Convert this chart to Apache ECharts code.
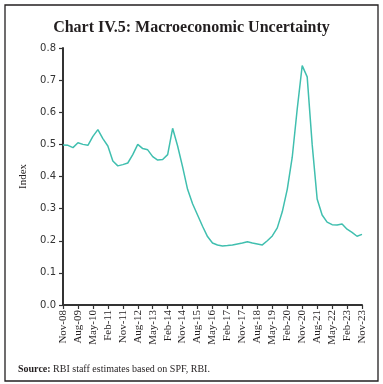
<!DOCTYPE html>
<html>
<head>
<meta charset="utf-8">
<script src="https://cdn.jsdelivr.net/npm/echarts@6/dist/echarts.min.js"></script>
<style>
html,body{margin:0;padding:0;background:#fff;}
#chart{width:383px;height:384px;}
</style>
</head>
<body>
<div id="chart"></div>
<script>
var categories = [
  'Nov-08','Feb-09','May-09','Aug-09','Nov-09','Feb-10','May-10','Aug-10','Nov-10','Feb-11',
  'May-11','Aug-11','Nov-11','Feb-12','May-12','Aug-12','Nov-12','Feb-13','May-13','Aug-13',
  'Nov-13','Feb-14','May-14','Aug-14','Nov-14','Feb-15','May-15','Aug-15','Nov-15','Feb-16',
  'May-16','Aug-16','Nov-16','Feb-17','May-17','Aug-17','Nov-17','Feb-18','May-18','Aug-18',
  'Nov-18','Feb-19','May-19','Aug-19','Nov-19','Feb-20','May-20','Aug-20','Nov-20','Feb-21',
  'May-21','Aug-21','Nov-21','Feb-22','May-22','Aug-22','Nov-22','Feb-23','May-23','Aug-23',
  'Nov-23'
];
var uncertainty = [
  0.498,0.497,0.490,0.505,0.500,0.497,0.525,0.546,0.518,0.495,
  0.448,0.433,0.437,0.442,0.468,0.500,0.487,0.483,0.462,0.451,
  0.453,0.468,0.550,0.495,0.430,0.360,0.315,0.280,0.245,0.213,
  0.193,0.187,0.184,0.185,0.187,0.190,0.193,0.197,0.193,0.190,
  0.187,0.200,0.215,0.240,0.290,0.360,0.460,0.610,0.745,0.710,
  0.500,0.330,0.280,0.258,0.250,0.249,0.252,0.236,0.226,0.214,
  0.220
];
var yTicks = { min: 0, max: 0.8, interval: 0.1 };
var titleText = 'Chart IV.5: Macroeconomic Uncertainty';
var yAxisName = 'Index';

var chart = echarts.init(document.getElementById('chart'), null, {renderer: 'canvas'});
chart.setOption({
  animation: false,
  backgroundColor: '#fff',
  title: [{
    text: titleText,
    left: 'center',
    top: 15,
    textStyle: {fontFamily: 'Liberation Serif', fontWeight: 'bold', fontSize: 16, color: '#231f20'}
  }, {
    text: '{b|Source:} {n|RBI staff estimates based on SPF, RBI.}',
    left: 13,
    top: 359,
    textStyle: {
      fontFamily: 'Liberation Serif', fontSize: 10, fontWeight: 'normal', color: '#231f20',
      rich: {
        b: {fontFamily: 'Liberation Serif', fontSize: 10, fontWeight: 'bold', color: '#231f20'},
        n: {fontFamily: 'Liberation Serif', fontSize: 10, fontWeight: 'normal', color: '#231f20'}
      }
    }
  }],
  graphic: [{
    type: 'rect',
    shape: {x: 5, y: 5, width: 373, height: 376},
    style: {fill: 'none', stroke: '#231f20', lineWidth: 1.3},
    silent: true
  }],
  grid: {left: 63, right: 21, top: 48, bottom: 79, containLabel: false},
  xAxis: {
    type: 'category',
    data: categories,
    boundaryGap: false,
    axisLine: {lineStyle: {color: '#333', width: 2}},
    axisTick: {interval: 2, length: 4, lineStyle: {color: '#333', width: 1.2}},
    axisLabel: {
      interval: 2, rotate: 90, margin: 5,
      fontFamily: 'Liberation Serif', fontSize: 11, color: '#231f20'
    },
    splitLine: {show: false}
  },
  yAxis: {
    type: 'value',
    min: yTicks.min, max: yTicks.max, interval: yTicks.interval,
    name: yAxisName,
    nameLocation: 'middle',
    nameGap: 34,
    nameTextStyle: {fontFamily: 'Liberation Serif', fontSize: 11, color: '#231f20'},
    axisLine: {show: true, lineStyle: {color: '#333', width: 2}},
    axisTick: {show: true, length: 4, lineStyle: {color: '#333', width: 1.2}},
    axisLabel: {
      margin: 7,
      fontFamily: 'DejaVu Sans', fontSize: 10, color: '#333',
      formatter: function (v) { return v.toFixed(1); }
    },
    splitLine: {show: false}
  },
  series: [{
    type: 'line',
    data: uncertainty,
    showSymbol: false,
    symbol: 'none',
    lineStyle: {color: '#40BFAF', width: 1.5},
    itemStyle: {color: '#40BFAF'}
  }]
});
</script>
</body>
</html>
